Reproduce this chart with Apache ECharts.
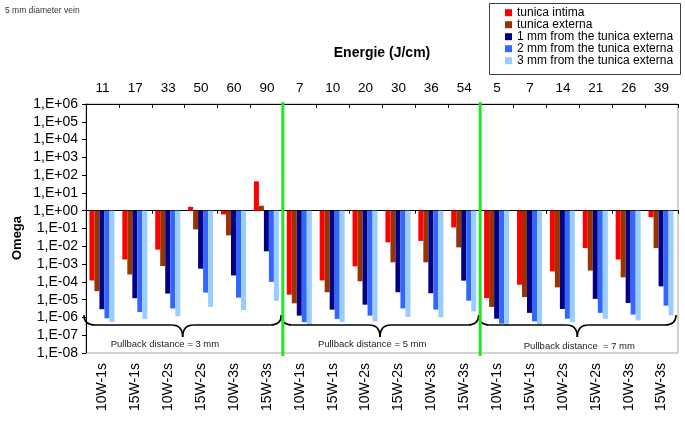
<!DOCTYPE html>
<html>
<head>
<meta charset="utf-8">
<script src="https://cdn.jsdelivr.net/npm/echarts@6/dist/echarts.min.js"></script>
<style>html,body{margin:0;padding:0;background:#fff;}#c{width:685px;height:426px;}</style>
</head>
<body>
<div id="c"></div>
<script>
const categories = ['10W-1s','15W-1s','10W-2s','15W-2s','10W-3s','15W-3s',
                    '10W-1s','15W-1s','10W-2s','15W-2s','10W-3s','15W-3s',
                    '10W-1s','15W-1s','10W-2s','15W-2s','10W-3s','15W-3s'];
const energies = ['11','17','33','50','60','90','7','10','20','30','36','54','5','7','14','21','26','39'];
const groupLabels = ['Pullback distance = 3 mm','Pullback distance = 5 mm','Pullback distance  = 7 mm'];
const seriesNames = ['tunica intima','tunica externa','1 mm from the tunica externa','2 mm from the tunica externa','3 mm from the tunica externa'];
const intima  = [1.2e-4,1.8e-3,6.5e-3,1.66,0.62,45,1.9e-5,1.2e-4,7.4e-4,0.0166,0.02,0.115,1.23e-5,6.9e-5,3.9e-4,7.9e-3,1.8e-3,0.43];
const externa = [3e-5,2.6e-4,7.8e-4,0.089,0.041,1.9,6.2e-6,2.6e-5,1.07e-4,1.26e-3,1.26e-3,8.7e-3,3.9e-6,1.4e-5,4.9e-5,4.3e-4,1.8e-4,7.9e-3];
const mm1     = [2.9e-6,1.2e-5,2.2e-5,5.5e-4,2.3e-4,5.2e-3,1.26e-6,2.75e-6,5.2e-6,2.6e-5,2.3e-5,1.17e-4,8.5e-7,1.8e-6,3e-6,1.1e-5,6.5e-6,5.6e-5];
const mm2     = [9e-7,2e-6,3.2e-6,2.5e-5,1.3e-5,1e-4,5.4e-7,8.3e-7,1.26e-6,3.2e-6,2.75e-6,8.7e-6,4.5e-7,6e-7,8.5e-7,1.8e-6,1.45e-6,4.6e-6];
const mm3     = [5.4e-7,8.3e-7,1.15e-6,3.9e-6,2.6e-6,8.5e-6,3.6e-7,5.4e-7,6e-7,1.07e-6,1.02e-6,2.2e-6,3.5e-7,4e-7,5.4e-7,8.3e-7,6.9e-7,1.3e-6];

const colors = ['#ff0000','#993300','#000080','#3366ff','#99ccff'];
const allSeries = [intima, externa, mm1, mm2, mm3];
const FONT = 'Liberation Sans, Arial, sans-serif';

const gridTop = 104, gridBottom = 73, H = 426;
const gridH = H - gridTop - gridBottom;
const baseOffset = -gridH * 8 / 14;

function fmt(v){
  const e = Math.round(Math.log10(v));
  return '1,E' + (e < 0 ? '-' : '+') + String(Math.abs(e)).padStart(2,'0');
}

const chart = echarts.init(document.getElementById('c'));
const series = allSeries.map((arr, k) => ({
  type: 'custom',
  name: seriesNames[k],
  xAxisIndex: 0, yAxisIndex: 0,
  itemStyle: {color: colors[k]},
  encode: {x: 0, y: 1},
  data: arr.map((v, i) => [i, v]),
  renderItem: function(params, api){
    const i = api.value(0), v = api.value(1);
    const c0 = api.coord([i, 1]);
    const c1 = api.coord([i, v]);
    const bw = api.size([1, 0], [i, 1])[0];
    const w = bw * 0.152;
    const x = c0[0] - 2.6 * w + k * w;
    return {type: 'rect', shape: {x: x, y: Math.min(c0[1], c1[1]), width: w, height: Math.abs(c1[1] - c0[1])},
            style: {fill: colors[k]}};
  }
}));

const baseGraphic = [
  {type: 'text', x: 5, y: 11, style: {text: '5 mm diameter vein', fontSize: 8.5, fill: '#333', fontFamily: FONT, verticalAlign: 'middle'}},
  {type: 'text', x: 17, y: 238, rotation: Math.PI / 2,
   style: {text: 'Omega', fontSize: 13, fontWeight: 'bold', fill: '#000', fontFamily: FONT, align: 'center', verticalAlign: 'middle'}},
  {type: 'rect', z: -1, shape: {x: 489.5, y: 3.5, width: 191, height: 71}, style: {fill: '#fff', stroke: '#404040', lineWidth: 1}}
];

chart.setOption({
  animation: false,
  grid: {left: 86, right: 7, top: gridTop, bottom: gridBottom, show: true, borderColor: '#a6a6a6', borderWidth: 1, backgroundColor: '#fff'},
  legend: {
    data: seriesNames, orient: 'vertical', left: 505, top: 6.7, padding: 0, itemGap: 0,
    icon: 'rect', itemWidth: 7, itemHeight: 7,
    textStyle: {fontSize: 12, lineHeight: 10.6, color: '#000', fontFamily: FONT},
    selectedMode: false
  },
  xAxis: [
    {type: 'category', data: categories, position: 'bottom', gridIndex: 0,
     axisLine: {show: false, onZero: false}, axisTick: {show: false},
     axisLabel: {rotate: 90, fontSize: 14, color: '#000', margin: 10, fontFamily: FONT}},
    {type: 'category', data: energies, position: 'top', gridIndex: 0,
     axisLine: {show: true, onZero: false, lineStyle: {color: '#000', width: 1}},
     axisTick: {show: true, inside: true, length: 4, lineStyle: {color: '#000'}},
     axisLabel: {fontSize: 13.5, color: '#000', margin: 9, fontFamily: FONT},
     name: 'Energie (J/cm)', nameLocation: 'middle', nameGap: 44,
     nameTextStyle: {fontSize: 14, fontWeight: 'bold', color: '#000', fontFamily: FONT}},
    {type: 'category', data: categories, position: 'bottom', gridIndex: 0, offset: baseOffset,
     axisLine: {show: true, onZero: false, lineStyle: {color: '#000', width: 1}},
     axisTick: {show: true, length: 3, lineStyle: {color: '#000'}},
     axisLabel: {show: false}}
  ],
  yAxis: [{
    type: 'log', logBase: 10, min: 1e-8, max: 1e6, interval: 1,
    axisLine: {show: true, onZero: false, lineStyle: {color: '#000', width: 1}},
    axisTick: {show: true, length: 4, lineStyle: {color: '#000'}},
    splitLine: {show: false}, minorTick: {show: false},
    axisLabel: {formatter: fmt, fontSize: 14, color: '#000', margin: 8, fontFamily: FONT}
  }],
  graphic: {elements: baseGraphic},
  series: series
});

// annotations (group separators, braces, labels) placed via the axis scales
const bw = chart.convertToPixel({xAxisIndex: 0}, 1) - chart.convertToPixel({xAxisIndex: 0}, 0);
const yTop = chart.convertToPixel({yAxisIndex: 0}, 1e6);
const yBot = chart.convertToPixel({yAxisIndex: 0}, 1e-8);
const extra = [];
const textFrac = [0.40, 0.45, 0.50];
const textDy = [0, 0, 2];
const braceStyle = {fill: 'none', stroke: '#000', lineWidth: 1.6};
function bez(xa, ya, cx, cy, xb, yb){
  return {type: 'bezierCurve', z: 10, shape: {x1: xa, y1: ya, cpx1: cx, cpy1: cy, x2: xb, y2: yb}, style: braceStyle};
}
function seg(xa, ya, xb, yb){
  return {type: 'line', z: 10, shape: {x1: xa, y1: ya, x2: xb, y2: yb}, style: braceStyle};
}
for (let g = 0; g < 3; g++) {
  const left = chart.convertToPixel({xAxisIndex: 0}, g * 6) - bw / 2;
  const right = chart.convertToPixel({xAxisIndex: 0}, g * 6 + 5) + bw / 2;
  const x0 = left - 2, x1 = right - 2, xm = (x0 + x1) / 2;
  const yE = yBot - 38, yH = yBot - 28, yP = yBot - 16;
  extra.push(bez(x0, yE, x0, yH, x0 + 11, yH));
  extra.push(seg(x0 + 11, yH, xm - 11, yH));
  extra.push(bez(xm - 11, yH, xm, yH, xm, yP));
  extra.push(bez(xm, yP, xm, yH, xm + 11, yH));
  extra.push(seg(xm + 11, yH, x1 - 11, yH));
  extra.push(bez(x1 - 11, yH, x1, yH, x1, yE));
  extra.push({type: 'text', x: left + (right - left) * textFrac[g], y: yBot - 9 + textDy[g], z: 10,
    style: {text: groupLabels[g], fontSize: 9.5, fill: '#222', fontFamily: FONT, align: 'center', verticalAlign: 'middle'}});
  if (g > 0) {
    extra.push({type: 'line', z: 11, shape: {x1: left - 0.5, y1: yTop - 2, x2: left - 0.5, y2: yBot + 3},
      style: {stroke: '#22e622', lineWidth: 3}});
  }
}
chart.setOption({graphic: {elements: baseGraphic.concat(extra)}}, {replaceMerge: ['graphic']});
</script>
</body>
</html>
